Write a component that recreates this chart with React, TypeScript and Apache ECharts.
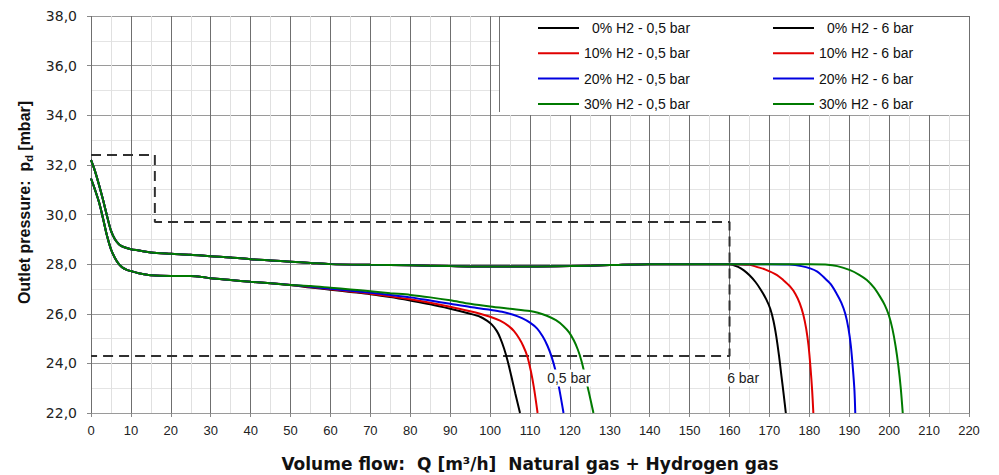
import React, { useEffect, useRef } from "react";
import * as echarts from "echarts";

// ---------- data ----------
const xTicks = { min: 0, max: 220, interval: 10 };
const yTicks = { min: 22, max: 38, interval: 2 };

// shared start of the 0,5 bar curves
const start05: number[][] = [
  [0, 31.45], [1, 31.0], [2, 30.5], [3, 29.85], [4, 29.15], [5, 28.6], [6, 28.25],
  [7, 28.0], [8, 27.85], [9, 27.77], [10, 27.72], [12, 27.63], [15, 27.55], [20, 27.52],
  [25, 27.52], [28, 27.48], [30, 27.43], [35, 27.36], [40, 27.29], [45, 27.23], [50, 27.16],
];
const black05: number[][] = [
  [55, 27.06], [60, 26.97], [65, 26.88], [70, 26.79], [75, 26.67], [80, 26.53], [85, 26.38],
  [90, 26.2], [95, 26.0], [97.5, 25.88], [99.2, 25.72], [100.5, 25.55], [101.7, 25.3],
  [102.6, 25.0], [103.5, 24.6], [104.4, 24.1], [105.3, 23.5], [106.3, 22.8], [107.5, 22.0],
];
const red05: number[][] = [
  [55, 27.08], [60, 26.99], [65, 26.9], [70, 26.81], [75, 26.7], [80, 26.58], [85, 26.44],
  [90, 26.28], [95, 26.1], [97.5, 26.0], [100, 25.88], [102.5, 25.72], [104.5, 25.52],
  [106, 25.3], [107.3, 25.0], [108.3, 24.7], [109.3, 24.3], [110.2, 23.7], [111.0, 23.0],
  [111.9, 22.0],
];
const blue05: number[][] = [
  [55, 27.09], [60, 27.01], [65, 26.93], [70, 26.85], [75, 26.76], [80, 26.66], [85, 26.53],
  [90, 26.4], [95, 26.27], [100, 26.16], [103, 26.08], [105.8, 25.96], [108, 25.82],
  [110, 25.64], [111.8, 25.4], [113.2, 25.08], [114.4, 24.7], [115.4, 24.27], [116.4, 23.7],
  [117.3, 23.0], [118.4, 22.0],
];
const green05: number[][] = [
  [55, 27.12], [60, 27.05], [65, 26.98], [70, 26.91], [75, 26.83], [80, 26.76], [85, 26.66],
  [90, 26.54], [95, 26.4], [100, 26.29], [105, 26.2], [110, 26.11], [112, 26.04],
  [114.2, 25.92], [116.5, 25.74], [118.4, 25.5], [119.8, 25.25], [121.0, 24.92],
  [122.0, 24.55], [122.9, 24.1], [123.8, 23.5], [124.8, 22.8], [125.9, 22.0],
];

// shared plateau of the 6 bar curves
const plateau6: number[][] = [
  [0, 32.2], [1, 31.75], [2, 31.2], [3, 30.6], [4, 29.95], [5, 29.35], [6, 29.0],
  [7, 28.8], [8, 28.7], [10, 28.6], [12, 28.55], [15, 28.47], [20, 28.42], [25, 28.38],
  [30, 28.32], [35, 28.27], [40, 28.2], [45, 28.15], [50, 28.1], [55, 28.05], [60, 28.0],
  [70, 27.97], [80, 27.95], [90, 27.92], [100, 27.9], [110, 27.9], [120, 27.92],
  [130, 27.96], [140, 28.0], [150, 28.0], [160, 28.0],
];
const black6: number[][] = [
  [162, 27.9], [163.5, 27.76], [165, 27.55], [166.5, 27.28], [167.9, 26.95], [169.2, 26.58],
  [170.2, 26.2], [171.0, 25.72], [171.7, 25.1], [172.4, 24.3], [173.0, 23.5], [173.6, 22.7],
  [174.1, 22.0],
];
const red6: number[][] = [
  [165, 27.97], [167, 27.88], [169, 27.78], [171.9, 27.56], [173.5, 27.35], [175.2, 27.09],
  [176.5, 26.8], [177.6, 26.42], [178.5, 25.95], [179.2, 25.4], [179.8, 24.7], [180.3, 23.8],
  [180.7, 22.9], [181.0, 22.0],
];
const blue6: number[][] = [
  [170, 28.0], [175, 27.98], [178, 27.92], [180.2, 27.83], [182, 27.7], [183.5, 27.49],
  [185.3, 27.2], [186.8, 26.82], [188, 26.45], [189, 26.0], [189.8, 25.4], [190.4, 24.7],
  [190.9, 23.8], [191.3, 22.9], [191.5, 22.0],
];
const green6: number[][] = [
  [170, 28.0], [180, 28.0], [184, 27.98], [187, 27.92], [190.2, 27.76], [192.5, 27.57],
  [194.4, 27.36], [196.2, 27.05], [197.7, 26.69], [198.9, 26.35], [199.9, 25.95],
  [200.8, 25.4], [201.6, 24.7], [202.3, 23.9], [202.9, 23.0], [203.4, 22.0],
];

// dashed limit envelope
const envelope: number[][] = [
  [0, 32.4], [16, 32.4], [16, 29.7], [160, 29.7], [160, 24.3], [0, 24.3],
];

const annotations = [
  { name: "0,5 bar", x: 113.8, y: 23.41 },
  { name: "6 bar", x: 158.9, y: 23.41 },
];

const names05 = ["0% H2 - 0,5 bar", "10% H2 - 0,5 bar", "20% H2 - 0,5 bar", "30% H2 - 0,5 bar"];
const names6 = ["0% H2 - 6 bar", "10% H2 - 6 bar", "20% H2 - 6 bar", "30% H2 - 6 bar"];
const colors = ["#000000", "#e00000", "#0000e0", "#007a00"];

const FONT = "'Liberation Sans', Arial, sans-serif";
const WIDE = "'DejaVu Sans', 'Liberation Sans', sans-serif";

export default function App() {
  const ref = useRef<HTMLDivElement>(null);
  useEffect(() => {
    document.body.style.margin = "0";
    if (!ref.current) return;
    const chart = echarts.init(ref.current, undefined, { renderer: "svg" });

    const tails05 = [black05, red05, blue05, green05];
    const tails6 = [black6, red6, blue6, green6];

    const lineSeries: any[] = [];
    names05.forEach((n, i) => {
      lineSeries.push({
        name: n,
        type: "line",
        data: start05.concat(tails05[i]),
        showSymbol: false,
        symbol: "none",
        smooth: 0.3,
        lineStyle: { color: colors[i], width: 2 },
        itemStyle: { color: colors[i] },
        z: 2,
      });
    });
    names6.forEach((n, i) => {
      lineSeries.push({
        name: n,
        type: "line",
        data: plateau6.concat(tails6[i]),
        showSymbol: false,
        symbol: "none",
        smooth: 0.3,
        lineStyle: { color: colors[i], width: 2 },
        itemStyle: { color: colors[i] },
        z: 2,
      });
    });

    const legendCommon = {
      orient: "vertical",
      top: 21,
      padding: 0,
      icon: "rect",
      itemWidth: 41,
      itemHeight: 2,
      itemGap: 11.3,
      selectedMode: false,
      z: 10,
      textStyle: {
        fontFamily: FONT,
        fontSize: 14,
        lineHeight: 14,
        color: "#111",
        rich: { p: { width: 8, lineHeight: 14 } },
      },
      formatter: (name: string) => (name.startsWith("0%") ? "{p|}" + name : name),
    };

    const baseGraphic: any[] = [
      {
        id: "legendBg",
        type: "rect",
        shape: { x: 499, y: 16, width: 470, height: 99 },
        style: { fill: "#ffffff" },
        z: 3,
        silent: true,
      },
      {
        id: "legendLeft",
        type: "line",
        shape: { x1: 499.5, y1: 16, x2: 499.5, y2: 112 },
        style: { stroke: "#707070", lineWidth: 1 },
        z: 3,
        silent: true,
      },
      {
        id: "legendTop",
        type: "line",
        shape: { x1: 499, y1: 16.5, x2: 969, y2: 16.5 },
        style: { stroke: "#707070", lineWidth: 1 },
        z: 3,
        silent: true,
      },
    ];

    const option: any = {
      animation: false,
      backgroundColor: "#ffffff",
      textStyle: { fontFamily: FONT },
      grid: { left: 91, right: 30, top: 16, bottom: 62, containLabel: false, outerBoundsMode: "none" },
      xAxis: {
        type: "value",
        min: xTicks.min,
        max: xTicks.max,
        interval: xTicks.interval,
        name: "Volume flow:  Q [m³/h]  Natural gas + Hydrogen gas",
        nameLocation: "middle",
        nameGap: 42,
        nameTextStyle: { fontFamily: WIDE, fontSize: 17, fontWeight: "bold", color: "#111" },
        axisLine: { show: false },
        axisTick: { show: true, length: 4, lineStyle: { color: "#888" } },
        axisLabel: { fontFamily: FONT, fontSize: 13, color: "#222", margin: 11 },
        splitLine: { show: true, lineStyle: { color: "#6f6f6f", width: 1 } },
        minorTick: { show: false, splitNumber: 2 },
        minorSplitLine: { show: true, lineStyle: { color: "#e0e0e0", width: 1 } },
      },
      yAxis: {
        type: "value",
        min: yTicks.min,
        max: yTicks.max,
        interval: yTicks.interval,
        name: "{b|Outlet pressure:  p}{s|d}{b| [mbar]}",
        nameLocation: "middle",
        nameGap: 56,
        nameRotate: 90,
        nameTextStyle: {
          fontFamily: FONT,
          color: "#111",
          padding: [0, 0, 0, 24],
          rich: {
            b: { fontFamily: FONT, fontSize: 16, fontWeight: "bold", color: "#111", lineHeight: 20 },
            s: { fontFamily: FONT, fontSize: 11, fontWeight: "bold", color: "#111", verticalAlign: "bottom", lineHeight: 20, padding: [6, 0, 0, 0] },
          },
        },
        axisLine: { show: false },
        axisTick: { show: true, length: 4, lineStyle: { color: "#888" } },
        axisLabel: {
          fontFamily: WIDE,
          fontSize: 14,
          color: "#222",
          margin: 14,
          formatter: (v: number) => v.toFixed(1).replace(".", ","),
        },
        splitLine: { show: true, lineStyle: { color: "#9a9a9a", width: 1 } },
        minorTick: { show: false, splitNumber: 2 },
        minorSplitLine: { show: true, lineStyle: { color: "#e4e4e4", width: 1 } },
      },
      legend: [
        { ...legendCommon, left: 538, data: names05 },
        { ...legendCommon, left: 773, data: names6 },
      ],
      graphic: baseGraphic,
      series: [
        {
          name: "envelope",
          type: "line",
          data: envelope,
          showSymbol: false,
          symbol: "none",
          lineStyle: { color: "#303030", width: 2, type: [10, 6] },
          z: 1,
          silent: true,
        },
        ...lineSeries,
      ],
    };

    chart.setOption(option);

    // annotation labels placed through the chart's own coordinate system
    const annoGraphic = annotations.map((a, i) => {
      const p = chart.convertToPixel({ gridIndex: 0 }, [a.x, a.y]) as number[];
      return {
        id: "anno" + i,
        type: "text",
        x: p[0],
        y: p[1],
        z: 20,
        silent: true,
        style: {
          text: a.name,
          fontFamily: FONT,
          fontSize: 14,
          fill: "#222",
          align: "left",
          verticalAlign: "middle",
          backgroundColor: "#ffffff",
          padding: [2, 2, 1, 2],
        },
      };
    });
    chart.setOption({ graphic: baseGraphic.concat(annoGraphic) });

    return () => chart.dispose();
  }, []);

  return <div ref={ref} style={{ width: 999, height: 475 }} />;
}
